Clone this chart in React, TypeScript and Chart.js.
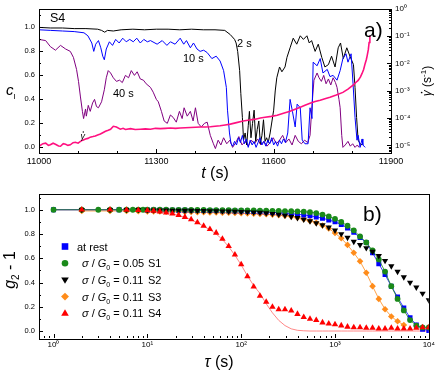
import React, { useEffect, useRef } from 'react';
import { Chart, registerables } from 'chart.js';

Chart.register(...registerables);

const FONT = '"Liberation Sans", Arial, Helvetica, sans-serif';

// ---------------- panel a) : c_I(t) for three lag times and shear rate ----------------
const trace2s: [number, number][] = [
  [11000, 1.0], [11030, 0.995], [11060, 0.995], [11090, 0.99], [11120, 0.99], [11150, 0.985], [11160, 0.975],
  [11168, 0.96], [11175, 0.975], [11190, 0.97], [11210, 0.98], [11240, 0.985], [11270, 0.98], [11300, 0.985],
  [11330, 0.985], [11360, 0.98], [11390, 0.985], [11420, 0.98], [11450, 0.98], [11475, 0.975], [11489, 0.94],
  [11500, 0.9], [11504, 0.87], [11508, 0.8], [11513, 0.64], [11516, 0.45], [11520, 0.25], [11523, 0.06],
  [11527, 0.12], [11531, 0.02], [11535, 0.18], [11538, 0.3], [11542, 0.08], [11546, 0.2], [11550, 0.31],
  [11554, 0.05], [11558, 0.15], [11562, 0.22], [11566, 0.03], [11570, 0.1], [11574, 0.23], [11578, 0.05],
  [11582, 0.08], [11586, 0.04], [11591, 0.12], [11600, 0.31], [11604, 0.47], [11608, 0.58], [11615, 0.67],
  [11621, 0.63], [11629, 0.67], [11634, 0.75], [11642, 0.83], [11650, 0.91], [11659, 0.86], [11668, 0.93],
  [11676, 0.9], [11685, 0.93], [11691, 0.87], [11697, 0.89], [11706, 0.8], [11714, 0.86], [11723, 0.75],
  [11731, 0.67], [11740, 0.69], [11748, 0.76], [11757, 0.67], [11765, 0.83], [11771, 0.87], [11778, 0.74],
  [11787, 0.83], [11795, 0.76], [11804, 0.69], [11808, 0.5], [11812, 0.25], [11816, 0.06], [11821, 0.03],
  [11826, 0.02],
];

const trace10s: [number, number][] = [
  [11000, 0.98], [11030, 0.975], [11060, 0.97], [11090, 0.965], [11115, 0.955], [11125, 0.93], [11135, 0.87],
  [11140, 0.8], [11145, 0.86], [11152, 0.89], [11158, 0.83], [11163, 0.76], [11167, 0.73], [11172, 0.82],
  [11180, 0.88], [11188, 0.85], [11196, 0.9], [11205, 0.87], [11214, 0.91], [11223, 0.88], [11232, 0.9],
  [11241, 0.88], [11250, 0.91], [11259, 0.87], [11268, 0.9], [11277, 0.88], [11285, 0.89], [11302, 0.86],
  [11315, 0.89], [11327, 0.85], [11336, 0.88], [11348, 0.86], [11361, 0.91], [11370, 0.86], [11377, 0.89],
  [11387, 0.83], [11395, 0.87], [11404, 0.82], [11412, 0.8], [11421, 0.81], [11430, 0.79], [11442, 0.74],
  [11453, 0.76], [11463, 0.72], [11472, 0.64], [11479, 0.5], [11482, 0.31], [11487, 0.12], [11491, 0.03],
  [11495, 0.01], [11500, 0.05], [11505, 0.02], [11510, 0.08], [11515, 0.04], [11520, 0.1], [11525, 0.03],
  [11530, 0.07], [11535, 0.0], [11540, 0.06], [11545, 0.02], [11550, 0.05], [11555, 0.0], [11560, 0.04],
  [11565, 0.08], [11570, 0.02], [11575, 0.05], [11580, 0.01], [11585, 0.06], [11590, 0.03], [11595, 0.08],
  [11600, 0.02], [11605, 0.05], [11610, 0.01], [11615, 0.06], [11620, 0.03], [11625, 0.07], [11630, 0.04],
  [11636, 0.12], [11642, 0.4], [11648, 0.3], [11655, 0.17], [11660, 0.36], [11668, 0.33], [11673, 0.06],
  [11680, 0.03], [11688, 0.03], [11693, 0.33], [11698, 0.24], [11701, 0.71], [11711, 0.68], [11719, 0.74],
  [11726, 0.62], [11737, 0.65], [11744, 0.59], [11752, 0.6], [11762, 0.56], [11770, 0.64], [11777, 0.74],
  [11785, 0.78], [11790, 0.71], [11798, 0.78], [11803, 0.53], [11808, 0.25], [11813, 0.06], [11816, 0.1],
  [11821, 0.0], [11826, 0.07], [11828, 0.02], [11834, 0.0],
];

const trace40s: [number, number][] = [
  [11000, 0.9], [11017, 0.89], [11029, 0.84], [11042, 0.81], [11055, 0.85], [11068, 0.82], [11080, 0.8],
  [11088, 0.75], [11096, 0.65], [11101, 0.55], [11106, 0.42], [11111, 0.3], [11114, 0.24], [11119, 0.32],
  [11121, 0.26], [11126, 0.35], [11131, 0.3], [11137, 0.37], [11142, 0.4], [11147, 0.34], [11152, 0.33],
  [11160, 0.38], [11167, 0.48], [11172, 0.58], [11177, 0.64], [11183, 0.62], [11190, 0.58], [11198, 0.55],
  [11206, 0.56], [11213, 0.54], [11221, 0.6], [11229, 0.58], [11236, 0.64], [11244, 0.6], [11251, 0.63],
  [11259, 0.57], [11267, 0.56], [11274, 0.53], [11285, 0.5], [11292, 0.46], [11300, 0.4], [11305, 0.38],
  [11313, 0.3], [11320, 0.22], [11328, 0.2], [11336, 0.27], [11343, 0.25], [11351, 0.21], [11359, 0.3],
  [11366, 0.24], [11371, 0.33], [11379, 0.26], [11387, 0.3], [11394, 0.22], [11400, 0.33], [11407, 0.2],
  [11415, 0.17], [11423, 0.2], [11430, 0.21], [11438, 0.1], [11446, 0.03], [11451, -0.01], [11458, 0.06],
  [11465, 0.02], [11472, 0.08], [11480, 0.03], [11488, 0.06], [11495, 0.0], [11503, 0.04], [11511, 0.09],
  [11519, 0.02], [11527, 0.05], [11535, 0.01], [11543, 0.06], [11551, 0.03], [11559, 0.07], [11567, 0.02],
  [11575, 0.05], [11583, 0.01], [11591, 0.04], [11599, 0.08], [11607, 0.03], [11615, 0.06], [11623, 0.1],
  [11631, 0.04], [11639, 0.07], [11647, 0.02], [11655, 0.1], [11663, 0.05], [11671, 0.03], [11679, 0.06],
  [11687, 0.04], [11693, 0.1], [11698, 0.35], [11703, 0.56], [11711, 0.62], [11716, 0.58], [11722, 0.55],
  [11728, 0.6], [11734, 0.53], [11740, 0.57], [11746, 0.52], [11752, 0.58], [11758, 0.54], [11762, 0.5],
  [11767, 0.4], [11770, 0.33], [11774, 0.1], [11777, 0.0], [11783, 0.02], [11790, 0.05], [11796, 0.01],
  [11802, 0.03], [11808, 0.0], [11814, 0.02], [11818, 0.0],
];

const shearRate: [number, number][] = [
  [11000, 9.3e-6], [11010, 1.15e-5], [11017, 1.2e-5], [11024, 1.0e-5], [11029, 1.05e-5], [11036, 1.2e-5],
  [11042, 1.1e-5], [11050, 9.5e-6], [11055, 9.3e-6], [11062, 1.15e-5], [11068, 1.1e-5], [11074, 1.0e-5],
  [11080, 1.05e-5], [11087, 1.25e-5], [11093, 1.3e-5], [11100, 1.2e-5], [11106, 1.4e-5], [11112, 1.55e-5],
  [11119, 1.7e-5], [11125, 1.8e-5], [11131, 2.0e-5], [11138, 2.1e-5], [11144, 2.2e-5], [11150, 2.4e-5],
  [11157, 2.6e-5], [11163, 2.9e-5], [11170, 3.3e-5], [11177, 3.6e-5], [11183, 3.9e-5], [11190, 5.0e-5],
  [11198, 4.7e-5], [11208, 3.9e-5], [11215, 4.2e-5], [11221, 3.8e-5], [11234, 4.1e-5], [11246, 3.8e-5],
  [11259, 3.9e-5], [11272, 4.0e-5], [11285, 3.9e-5], [11298, 4.2e-5], [11310, 4.1e-5], [11323, 4.2e-5],
  [11336, 4.3e-5], [11349, 4.2e-5], [11361, 4.3e-5], [11374, 4.4e-5], [11387, 4.5e-5], [11400, 4.6e-5],
  [11412, 4.7e-5], [11425, 4.7e-5], [11438, 4.8e-5], [11450, 5.0e-5], [11463, 5.2e-5], [11476, 5.6e-5],
  [11489, 6.0e-5], [11505, 6.8e-5], [11522, 7.8e-5], [11538, 8.5e-5], [11553, 9.1e-5], [11566, 1.0e-4],
  [11578, 1.07e-4], [11594, 1.15e-4], [11609, 1.26e-4], [11625, 1.5e-4], [11642, 1.78e-4], [11655, 2.1e-4],
  [11668, 2.5e-4], [11680, 2.95e-4], [11693, 3.5e-4], [11706, 4.0e-4], [11719, 4.5e-4], [11731, 5.1e-4],
  [11744, 5.8e-4], [11760, 7.0e-4], [11777, 8.7e-4], [11790, 1.15e-3], [11803, 1.6e-3], [11810, 2.0e-3],
  [11816, 2.4e-3], [11822, 3.2e-3], [11826, 4.3e-3], [11830, 6.0e-3], [11834, 1.0e-2], [11837, 1.4e-2],
  [11839, 1.9e-2], [11842, 3.2e-2], [11844, 5.8e-2], [11846, 1.05e-1],
];

const tTickLabels = [11000, 11300, 11600, 11900];
const cTickLabels = [0, 0.2, 0.4, 0.6, 0.8, 1.0];

// ---------------- panel b) : g2 - 1 versus tau ----------------
const tau = [
  1, 2, 3, 4, 5, 6, 7, 8, 9,
  10, 11.66, 13.59, 15.85, 18.48, 21.54, 25.12, 29.29, 34.15, 39.81, 46.42, 54.12, 63.1, 73.56, 85.77,
  100, 116.6, 135.9, 158.5, 184.8, 215.4, 251.2, 292.9, 341.5, 398.1, 464.2, 541.2, 631, 735.6, 857.7,
  1000, 1166, 1359, 1585, 1848, 2154, 2512, 2929, 3415, 3981, 4642, 5412, 6310, 7356, 8577, 10000,
];

const gRest = [
  1.0, null, null, null, 1.0, null, null, null, null,
  0.998, 0.998, 0.997, 0.997, 0.997, 0.996, 0.996, 0.995, 0.995, 0.994, 0.994, 0.993, 0.992, 0.991, 0.99,
  0.989, 0.988, 0.986, 0.984, 0.982, 0.979, 0.976, 0.972, 0.968, 0.963, 0.957, 0.95, 0.941, 0.93, 0.916,
  0.9, 0.878, 0.85, 0.814, 0.77, 0.73, 0.645, 0.555, 0.465, 0.37, 0.28, 0.19, 0.11, 0.05, 0.015, 0.005,
];

const gS1 = [
  1.0, 1.0, 1.0, 1.0, 1.0, 1.0, 1.0, 1.0, 1.0,
  1.0, 1.0, 1.0, 1.0, 0.999, 0.999, 0.999, 0.998, 0.998, 0.998, 0.997, 0.997, 0.996, 0.996, 0.995,
  0.995, 0.994, 0.994, 0.993, 0.992, 0.991, 0.99, 0.989, 0.988, 0.986, 0.984, 0.98, 0.973, 0.96, 0.945,
  0.925, 0.9, 0.868, 0.83, 0.78, 0.73, 0.665, 0.59, 0.49, 0.37, 0.265, 0.17, 0.09, 0.045, 0.03, 0.03,
];

const gS2 = [
  null, 1.0, null, 1.0, null, 1.0, null, 1.0, null,
  0.996, 0.996, 0.995, 0.995, 0.994, 0.994, 0.993, 0.993, 0.992, 0.991, 0.99, 0.989, 0.988, 0.987, 0.986,
  0.984, 0.982, 0.979, 0.976, 0.972, 0.967, 0.961, 0.953, 0.944, 0.933, 0.92, 0.906, 0.89, 0.873, 0.855,
  0.83, 0.8, 0.77, 0.737, 0.71, 0.685, 0.655, 0.62, 0.58, 0.535, 0.49, 0.445, 0.4, 0.36, 0.31, 0.255,
];

const gS3 = [
  null, 0.99, null, 0.99, null, 0.99, null, 0.988, null,
  0.986, 0.985, 0.985, 0.984, 0.984, 0.983, 0.982, 0.981, 0.98, 0.979, 0.978, 0.977, 0.976, 0.975, 0.974,
  0.972, 0.97, 0.968, 0.966, 0.963, 0.96, 0.956, 0.951, 0.944, 0.935, 0.922, 0.908, 0.892, 0.87, 0.845,
  0.808, 0.765, 0.71, 0.645, 0.575, 0.48, 0.37, 0.265, 0.18, 0.12, 0.08, 0.05, null, null, null, null,
];

const gS4 = [
  null, 1.0, null, 1.0, null, 0.998, null, 0.997, null,
  0.995, 0.99, 0.985, 0.976, 0.968, 0.955, 0.94, 0.92, 0.895, 0.866, 0.84, 0.81, 0.76, 0.7, 0.63,
  0.55, 0.45, 0.365, 0.29, 0.24, 0.198, 0.178, 0.178, 0.168, 0.14, 0.115, 0.1, 0.09, 0.07, 0.06,
  0.055, 0.045, 0.035, 0.03, 0.03, 0.025, 0.025, 0.02, 0.02, 0.025, 0.02, 0.02, 0.02, 0.025, 0.03, 0.03,
];

const gS4Fit = [
  1.0, 1.0, 1.0, 1.0, 1.0, 1.0, 1.0, 1.0, 1.0,
  0.995, 0.991, 0.985, 0.977, 0.967, 0.954, 0.938, 0.918, 0.893, 0.864, 0.835, 0.8, 0.755, 0.695, 0.625,
  0.545, 0.455, 0.375, 0.31, 0.225, 0.15, 0.088, 0.045, 0.018, 0.006, 0.002, 0.0, 0.0, 0.0, 0.0,
  0.0, 0.0, 0.0, 0.0, 0.0, 0.0, 0.0, 0.0, 0.0, 0.0, 0.0, 0.0, 0.0, 0.0, 0.0, 0.0,
];

const gTickLabels = [0, 0.2, 0.4, 0.6, 0.8, 1.0];
const legendLabels = ['at rest', 'S1', 'S2', 'S3', 'S4'];
const legendRatios = ['', '0.05', '0.11', '0.11', '0.11'];

// ---------------- colours ----------------
const C_BLACK = '#000000';
const C_BLUE = '#0000ff';
const C_PURPLE = '#800080';
const C_PINK = '#ff1080';
const C_GREEN = '#1a8a1a';
const C_ORANGE = '#ff8c1a';
const C_RED = '#ff0000';
const C_REDFIT = '#ff6a6a';

// ---------------- helpers ----------------
const SUP: Record<string, string> = {
  '0': '\u2070', '1': '\u00b9', '2': '\u00b2', '3': '\u00b3', '4': '\u2074', '5': '\u2075',
  '6': '\u2076', '7': '\u2077', '8': '\u2078', '9': '\u2079', '-': '\u207b',
};
const isDecade = (v: number) => Math.abs(Math.log10(v) - Math.round(Math.log10(v))) < 1e-6;
const pow10Label = (v: number) => '10' + String(Math.round(Math.log10(v))).split('').map((c) => SUP[c]).join('');

function logTickValues(min: number, max: number) {
  const out: number[] = [];
  for (let e = Math.floor(Math.log10(min)); e <= Math.ceil(Math.log10(max)); e++) {
    for (let m = 1; m < 10; m++) {
      const v = m * Math.pow(10, e);
      if (v >= min * 0.9999 && v <= max * 1.0001) out.push(v);
    }
  }
  return out;
}
function linTickValues(from: number, to: number, step: number) {
  const out: number[] = [];
  for (let v = from; v <= to + 1e-9; v += step) out.push(Math.round(v * 1000) / 1000);
  return out;
}
const toXY = (pairs: [number, number][]) => pairs.map(([x, y]) => ({ x, y }));
const toXYTau = (ys: (number | null)[]) =>
  tau.map((x, i) => ({ x, y: ys[i] })).filter((p) => p.y !== null && p.y !== undefined);

type Seg = { text: string; font: string; dy?: number; dot?: boolean };
function drawRich(ctx: CanvasRenderingContext2D, segs: Seg[], x: number, y: number, align: 'left' | 'center', rot = 0) {
  let w = 0;
  segs.forEach((s) => { ctx.font = s.font; w += ctx.measureText(s.text).width; });
  ctx.save();
  ctx.translate(x, y);
  ctx.rotate(rot);
  ctx.textAlign = 'left';
  ctx.textBaseline = 'alphabetic';
  ctx.fillStyle = '#000';
  let cx = align === 'center' ? -w / 2 : 0;
  segs.forEach((s) => {
    ctx.font = s.font;
    const sw = ctx.measureText(s.text).width;
    ctx.fillText(s.text, cx, s.dy || 0);
    if (s.dot) {
      const size = parseFloat(s.font.replace(/^[a-z ]*/, ''));
      ctx.beginPath();
      ctx.arc(cx + sw * 0.62, (s.dy || 0) - size * 0.78, Math.max(0.7, size * 0.07), 0, Math.PI * 2);
      ctx.fill();
    }
    cx += sw;
  });
  ctx.restore();
}
const f = (size: number, italic = false) => `${italic ? 'italic ' : ''}${size}px ${FONT}`;

const frameAndTicks = {
  id: 'frameAndTicks',
  afterDatasetsDraw(chart: any) {
    const { ctx, chartArea: a } = chart;
    ctx.save();
    ctx.strokeStyle = '#000';
    ctx.lineWidth = 1;
    Object.values(chart.scales).forEach((s: any) => {
      s.ticks.forEach((tk: any) => {
        const major = tk.label !== '' && tk.label !== undefined && tk.label !== null;
        const len = major ? 4 : 2;
        const p = Math.round(s.getPixelForValue(tk.value)) + 0.5;
        ctx.beginPath();
        if (s.axis === 'x') {
          if (p < a.left - 1 || p > a.right + 1) return;
          ctx.moveTo(p, a.bottom);
          ctx.lineTo(p, a.bottom - len);
        } else if (s.position === 'left') {
          if (p < a.top - 1 || p > a.bottom + 1) return;
          ctx.moveTo(a.left, p);
          ctx.lineTo(a.left + len, p);
        } else {
          if (p < a.top - 1 || p > a.bottom + 1) return;
          ctx.moveTo(a.right, p);
          ctx.lineTo(a.right - len, p);
        }
        ctx.stroke();
      });
    });
    ctx.strokeRect(Math.round(a.left) + 0.5, Math.round(a.top) + 0.5, Math.round(a.right - a.left), Math.round(a.bottom - a.top));
    ctx.restore();
  },
};

const topText = {
  id: 'topText',
  afterDraw(chart: any) {
    const ctx: CanvasRenderingContext2D = chart.ctx;
    drawRich(ctx, [{ text: 'S4', font: f(12.5) }], 50, 21.7, 'left');
    drawRich(ctx, [{ text: 'a)', font: f(21) }], 364, 37, 'left');
    drawRich(ctx, [{ text: '2 s', font: f(11) }], 237, 46.5, 'left');
    drawRich(ctx, [{ text: '10 s', font: f(11) }], 183, 61.5, 'left');
    drawRich(ctx, [{ text: '40 s', font: f(11) }], 113, 97, 'left');
    drawRich(ctx, [{ text: '\u03b3', font: f(9, true), dot: true }], 80.5, 139, 'left');
    drawRich(ctx, [{ text: 'c', font: f(15, true) }, { text: 'I', font: f(8), dy: 4 }], 6, 95, 'left');
    drawRich(ctx, [{ text: 't', font: f(16, true) }, { text: ' (s)', font: f(16) }], 215, 178, 'center');
    drawRich(
      ctx,
      [
        { text: '\u03b3', font: f(12, true), dot: true },
        { text: ' (s', font: f(12) },
        { text: '-1', font: f(8), dy: -5 },
        { text: ')', font: f(12) },
      ],
      431, 81, 'center', -Math.PI / 2,
    );
  },
};

function marker(ctx: CanvasRenderingContext2D, kind: string, x: number, y: number, r: number, color: string) {
  ctx.fillStyle = color;
  ctx.beginPath();
  if (kind === 'square') ctx.rect(x - r, y - r, 2 * r, 2 * r);
  else if (kind === 'circle') ctx.arc(x, y, r, 0, Math.PI * 2);
  else if (kind === 'down') {
    ctx.moveTo(x - r * 1.15, y - r * 0.75);
    ctx.lineTo(x + r * 1.15, y - r * 0.75);
    ctx.lineTo(x, y + r * 1.2);
    ctx.closePath();
  } else if (kind === 'diamond') {
    ctx.moveTo(x, y - r * 1.2);
    ctx.lineTo(x + r * 1.2, y);
    ctx.lineTo(x, y + r * 1.2);
    ctx.lineTo(x - r * 1.2, y);
    ctx.closePath();
  } else {
    ctx.moveTo(x - r * 1.15, y + r * 0.75);
    ctx.lineTo(x + r * 1.15, y + r * 0.75);
    ctx.lineTo(x, y - r * 1.2);
    ctx.closePath();
  }
  ctx.fill();
}

const bottomText = {
  id: 'bottomText',
  afterDraw(chart: any) {
    const ctx: CanvasRenderingContext2D = chart.ctx;
    drawRich(ctx, [{ text: 'b)', font: f(21) }], 363, 36, 'left');
    drawRich(ctx, [{ text: '\u03c4', font: f(16, true) }, { text: ' (s)', font: f(16) }], 219, 182, 'center');
    drawRich(
      ctx,
      [{ text: 'g', font: f(16, true) }, { text: '2', font: f(10), dy: 4 }, { text: ' - 1', font: f(16) }],
      15, 85, 'center', -Math.PI / 2,
    );
    const kinds = ['square', 'circle', 'down', 'diamond', 'up'];
    const colors = [C_BLUE, C_GREEN, C_BLACK, C_ORANGE, C_RED];
    legendLabels.forEach((lab, i) => {
      const yc = 61.5 + i * 16.7;
      marker(ctx, kinds[i], 65, yc, 3.3, colors[i]);
      if (i === 0) {
        drawRich(ctx, [{ text: lab, font: f(11) }], 77, yc + 4, 'left');
      } else {
        drawRich(
          ctx,
          [
            { text: '\u03c3', font: f(11, true) },
            { text: ' / ', font: f(11) },
            { text: 'G', font: f(11, true) },
            { text: '0', font: f(7), dy: 3 },
            { text: ' = ' + legendRatios[i], font: f(11) },
          ],
          82, yc + 4, 'left',
        );
        drawRich(ctx, [{ text: lab, font: f(11) }], 148, yc + 4, 'left');
      }
    });
  },
};

const noGrid = { grid: { display: false, drawTicks: false }, border: { display: false } };
const tickFont = (size: number) => ({ family: FONT, size });

function topConfig(): any {
  const xAll = linTickValues(11000, 11900, 100);
  const yAll = linTickValues(0, 1.1, 0.1);
  const rateMin = 5.25e-6;
  const rateMax = 1;
  const rAll = logTickValues(rateMin, rateMax);
  return {
    type: 'line',
    data: {
      datasets: [
        { data: toXY(shearRate), yAxisID: 'y1', borderColor: C_PINK, borderWidth: 1.6 },
        { data: toXY(trace10s), yAxisID: 'y', borderColor: C_BLUE, borderWidth: 1 },
        { data: toXY(trace2s), yAxisID: 'y', borderColor: C_BLACK, borderWidth: 1 },
        { data: toXY(trace40s), yAxisID: 'y', borderColor: C_PURPLE, borderWidth: 1 },
      ].map((d) => ({ ...d, pointRadius: 0, tension: 0, fill: false })),
    },
    options: {
      responsive: false,
      animation: false,
      devicePixelRatio: 1,
      events: [],
      layout: { padding: { top: 8, left: 0, right: 0, bottom: 0 } },
      plugins: { legend: { display: false }, tooltip: { enabled: false } },
      scales: {
        x: {
          type: 'linear', min: 11000, max: 11900, ...noGrid,
          afterBuildTicks: (s: any) => { s.ticks = xAll.map((v) => ({ value: v })); },
          ticks: {
            autoSkip: false, maxRotation: 0, padding: 3, color: '#000', font: tickFont(9),
            callback: (v: number) => (tTickLabels.includes(v) ? String(v) : ''),
          },
          afterFit: (s: any) => { s.height = 32; },
        },
        y: {
          type: 'linear', position: 'left', min: -0.047, max: 1.155, ...noGrid,
          afterBuildTicks: (s: any) => { s.ticks = yAll.map((v) => ({ value: v })); },
          ticks: {
            autoSkip: false, padding: 4, color: '#000', font: tickFont(7.5),
            callback: (v: number) => (cTickLabels.some((c) => Math.abs(c - v) < 1e-6) ? v.toFixed(1) : ''),
          },
          afterFit: (s: any) => { s.width = 39; },
        },
        y1: {
          type: 'logarithmic', position: 'right', min: rateMin, max: rateMax, ...noGrid,
          afterBuildTicks: (s: any) => { s.ticks = rAll.map((v) => ({ value: v })); },
          ticks: {
            autoSkip: false, padding: 4, color: '#000', font: tickFont(8),
            callback: (v: number) => (isDecade(v) ? pow10Label(v) : ''),
          },
          afterFit: (s: any) => { s.width = 46; },
        },
      },
    },
    plugins: [frameAndTicks, topText],
  };
}

function bottomConfig(): any {
  const xMin = 0.7;
  const xMax = 10000;
  const xAll = logTickValues(xMin, xMax);
  const yAll = linTickValues(0, 1.1, 0.1);
  return {
    type: 'scatter',
    data: {
      datasets: [
        { data: toXYTau(gS4), pointStyle: 'triangle', pointRadius: 3.7, backgroundColor: C_RED, borderColor: C_RED, showLine: false },
        { data: toXYTau(gS2), pointStyle: 'triangle', pointRotation: 180, pointRadius: 3.6, backgroundColor: C_BLACK, borderColor: C_BLACK, showLine: false },
        { data: toXYTau(gS1), pointStyle: 'circle', pointRadius: 2.9, backgroundColor: C_GREEN, borderColor: C_GREEN, showLine: true, borderWidth: 0.8 },
        { data: toXYTau(gRest), pointStyle: 'rect', pointRadius: 3.5, backgroundColor: C_BLUE, borderColor: C_BLUE, showLine: true, borderWidth: 0.8 },
        { data: toXYTau(gS3), pointStyle: 'rectRot', pointRadius: 3.3, backgroundColor: C_ORANGE, borderColor: C_ORANGE, showLine: true, borderWidth: 0.8 },
        { data: toXYTau(gS4Fit), pointRadius: 0, borderColor: C_REDFIT, showLine: true, borderWidth: 0.8 },
      ].map((d) => ({ ...d, pointBorderWidth: 0, pointHoverRadius: 0, tension: 0 })),
    },
    options: {
      responsive: false,
      animation: false,
      devicePixelRatio: 1,
      events: [],
      layout: { padding: { top: 8, left: 0, right: 0, bottom: 0 } },
      plugins: { legend: { display: false }, tooltip: { enabled: false } },
      scales: {
        x: {
          type: 'logarithmic', min: xMin, max: xMax, ...noGrid,
          afterBuildTicks: (s: any) => { s.ticks = xAll.map((v) => ({ value: v })); },
          ticks: {
            autoSkip: false, maxRotation: 0, padding: 2, color: '#000', font: tickFont(8),
            callback: (v: number) => (isDecade(v) ? pow10Label(v) : ''),
          },
          afterFit: (s: any) => { s.height = 35; },
        },
        y: {
          type: 'linear', position: 'left', min: -0.0575, max: 1.134, ...noGrid,
          afterBuildTicks: (s: any) => { s.ticks = yAll.map((v) => ({ value: v })); },
          ticks: {
            autoSkip: false, padding: 4, color: '#000', font: tickFont(7.5),
            callback: (v: number) => (gTickLabels.some((c) => Math.abs(c - v) < 1e-6) ? v.toFixed(1) : ''),
          },
          afterFit: (s: any) => { s.width = 39; },
        },
      },
    },
    plugins: [frameAndTicks, bottomText],
  };
}

export default function App() {
  const topRef = useRef<HTMLCanvasElement>(null);
  const botRef = useRef<HTMLCanvasElement>(null);
  useEffect(() => {
    const c1 = new Chart(topRef.current as HTMLCanvasElement, topConfig());
    const c2 = new Chart(botRef.current as HTMLCanvasElement, bottomConfig());
    return () => {
      c1.destroy();
      c2.destroy();
    };
  }, []);
  return (
    <div style={{ position: 'absolute', left: 0, top: 0, width: 437, height: 373, background: '#fff' }}>
      <canvas ref={topRef} width={437} height={185} style={{ position: 'absolute', left: 0, top: 0 }} />
      <canvas ref={botRef} width={437} height={188} style={{ position: 'absolute', left: 0, top: 185 }} />
    </div>
  );
}
